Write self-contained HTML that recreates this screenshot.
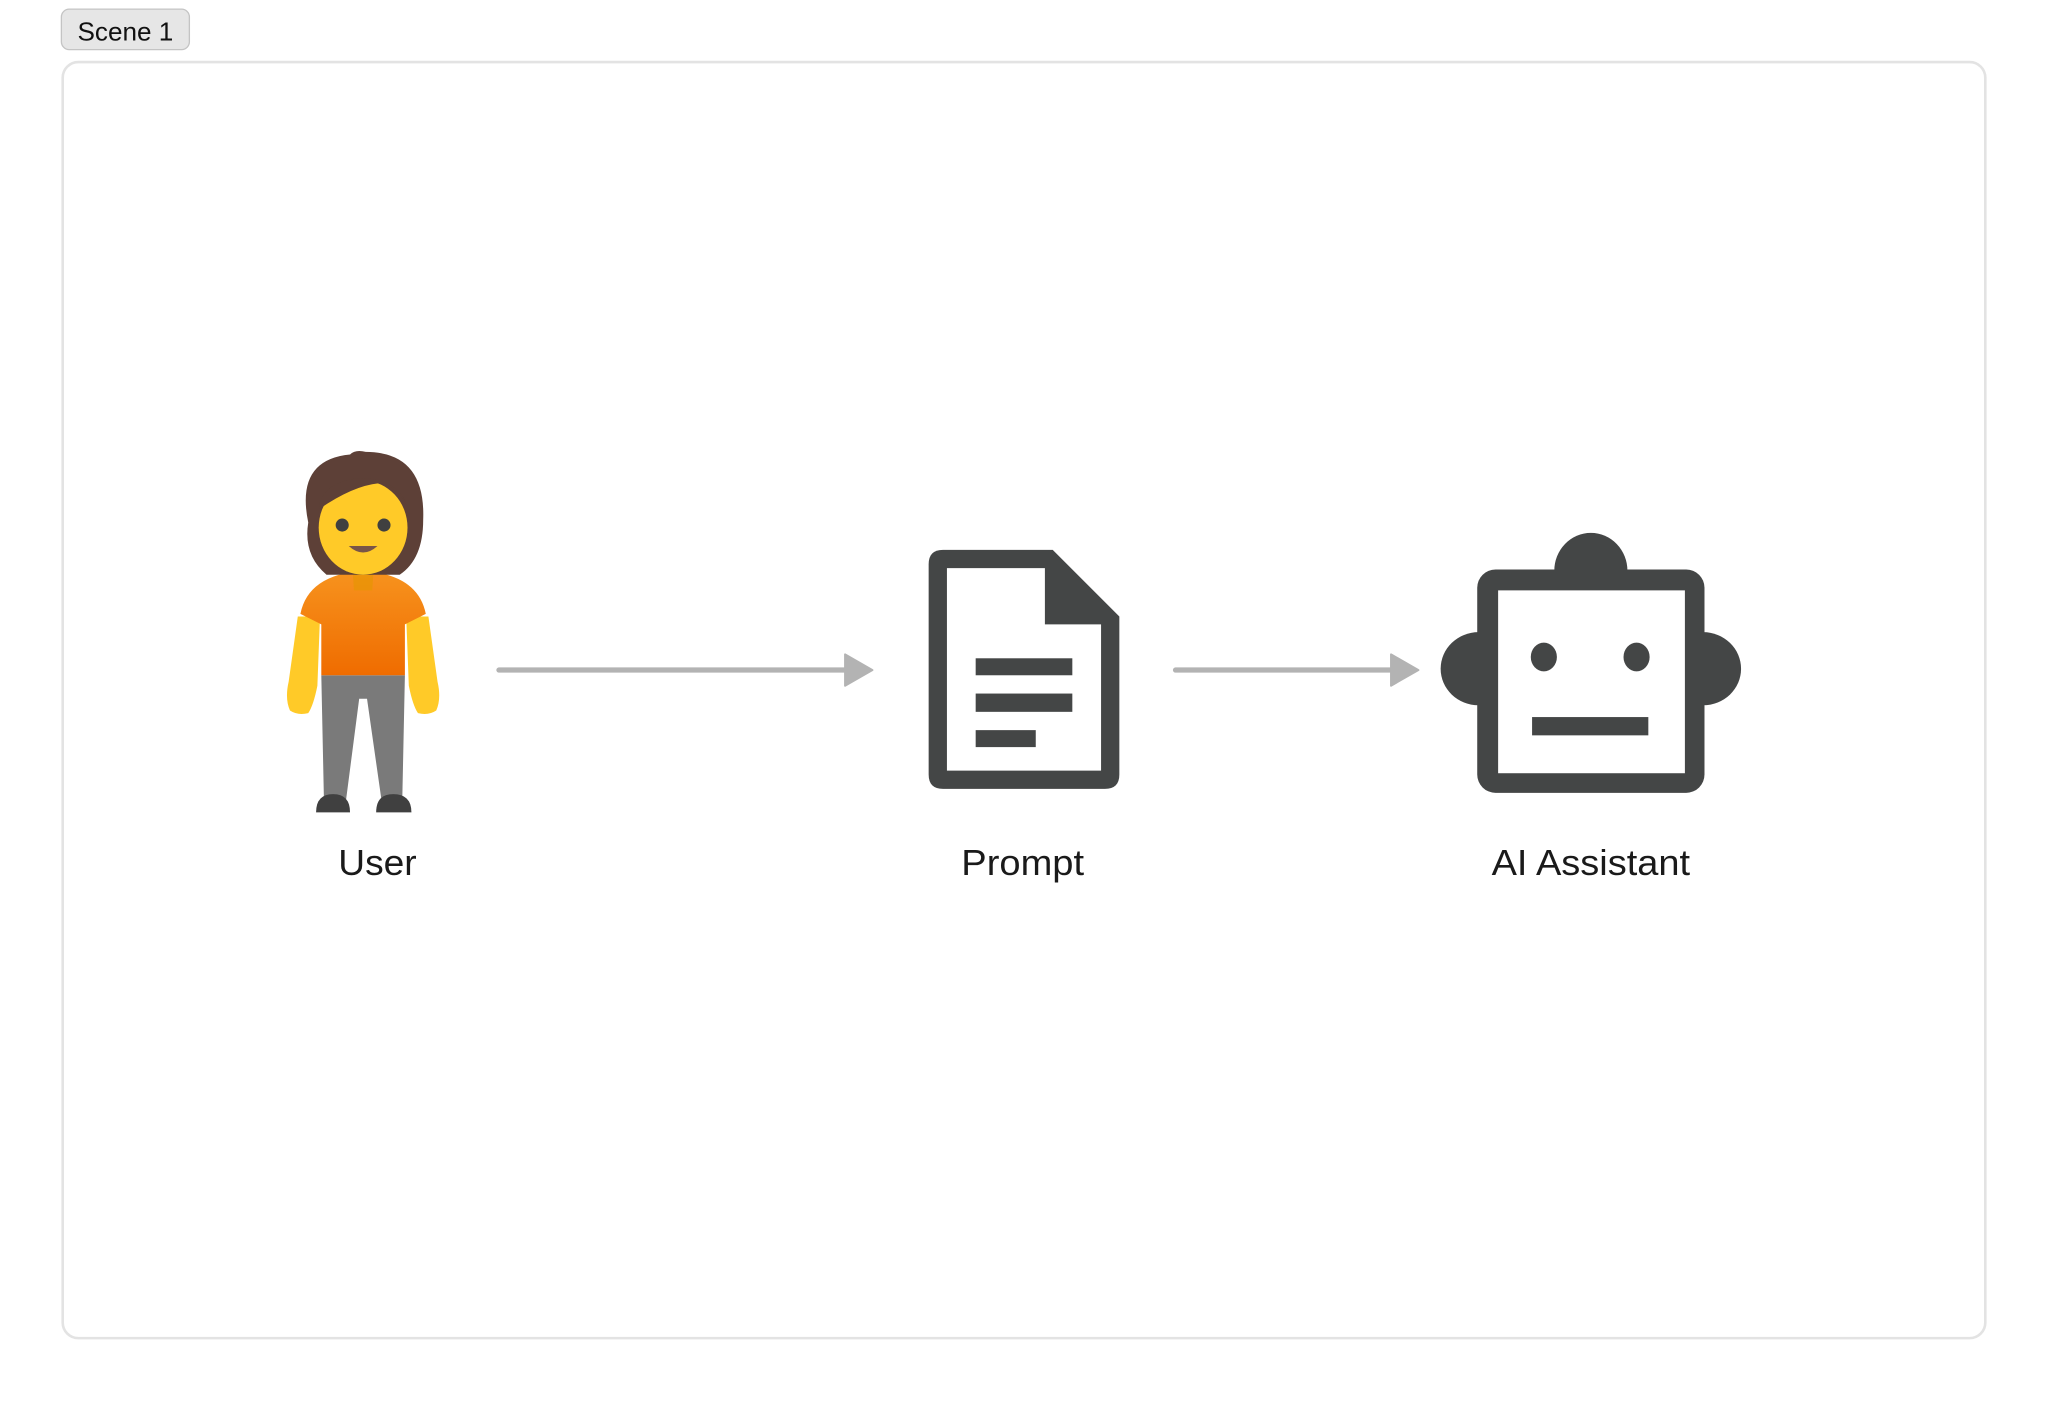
<!DOCTYPE html>
<html><head><meta charset="utf-8"><style>
html,body{margin:0;padding:0;background:#fff;width:2048px;height:1402px;overflow:hidden}
svg{display:block}
text{font-family:"Liberation Sans",sans-serif}
</style></head><body>
<svg width="2048" height="1402" viewBox="0 0 1568 1073.4" xmlns="http://www.w3.org/2000/svg">
<defs>
<linearGradient id="sh" x1="0" y1="0" x2="0" y2="1"><stop offset="0" stop-color="#f7931e"/><stop offset="1" stop-color="#ef6c00"/></linearGradient>
</defs>
<rect x="47" y="7" width="98" height="31" rx="6" fill="#e6e6e6" stroke="#c4c4c4" stroke-width="1"/>
<text x="96" y="31" font-size="20" text-anchor="middle" fill="#111">Scene 1</text>
<rect x="48" y="47.5" width="1472" height="977" rx="12" fill="#fff" stroke="#e3e3e3" stroke-width="2"/>

<!-- person -->
<g>
<path d="M228 472 L245 472 L243 525 Q240 540 236 546 Q228 548 222 544 Q218 535 221 522 Z" fill="#ffca28"/>
<path d="M328 472 L311 472 L313 525 Q316 540 320 546 Q328 548 334 544 Q338 535 335 522 Z" fill="#ffca28"/>
<path d="M246 517 L310 517 L308 612 L292 612 L281 535 L275 535 L265 612 L248 612 Z" fill="#7a7a7a"/>
<path d="M230 470 Q236 440 278 437 Q320 440 326 470 L310 478 L310 517 L246 517 L246 478 Z" fill="url(#sh)"/>
<path d="M270 437 L286 437 L285 452 L271 452 Z" fill="#e59600" opacity="0.6"/>
<path d="M242 622 Q242 608 255 608 Q268 608 268 622 Z" fill="#404040"/>
<path d="M288 622 Q288 608 301 608 Q315 608 315 622 Z" fill="#404040"/>
<path d="M236 400 Q226 352 268 348 Q272 344 280 346 Q326 346 324 398 Q324 428 306 440 L250 440 Q232 425 236 400 Z" fill="#5d4037"/>
<ellipse cx="278" cy="404" rx="34" ry="36" fill="#ffca28"/>
<path d="M244 390 Q246 368 278 366 Q306 368 312 388 Q304 372 290 370 Q270 372 244 390 Z" fill="#5d4037"/>
<circle cx="262" cy="402" r="5" fill="#404040"/>
<circle cx="294" cy="402" r="5" fill="#404040"/>
<path d="M267 418 Q278 428 289 418 Z" fill="#795548"/>
</g>
<text x="289" y="670" font-size="28" text-anchor="middle" fill="#1a1a1a" textLength="60" lengthAdjust="spacingAndGlyphs">User</text>

<!-- arrow 1 -->
<line x1="382" y1="513" x2="650" y2="513" stroke="#b3b3b3" stroke-width="4" stroke-linecap="round"/>
<path d="M647 501 L668 513 L647 525 Z" fill="#b3b3b3" stroke="#b3b3b3" stroke-width="1.5" stroke-linejoin="round"/>

<!-- document -->
<path d="M722 421 L806 421 L857 472 L857 593 Q857 604 846 604 L722 604 Q711 604 711 593 L711 432 Q711 421 722 421 Z" fill="#444646"/>
<path d="M725 435 L800 435 L800 478 L843 478 L843 590 L725 590 Z" fill="#fff"/>
<rect x="747" y="504" width="74" height="13" fill="#444646"/>
<rect x="747" y="531" width="74" height="14" fill="#444646"/>
<rect x="747" y="559" width="46" height="13" fill="#444646"/>
<text x="783" y="670" font-size="28" text-anchor="middle" fill="#1a1a1a" textLength="94" lengthAdjust="spacingAndGlyphs">Prompt</text>

<!-- arrow 2 -->
<line x1="900" y1="513" x2="1068" y2="513" stroke="#b3b3b3" stroke-width="4" stroke-linecap="round"/>
<path d="M1065 501 L1086 513 L1065 525 Z" fill="#b3b3b3" stroke="#b3b3b3" stroke-width="1.5" stroke-linejoin="round"/>

<!-- robot -->
<path d="M1190 437 A28 29 0 0 1 1246 437 Z" fill="#444646"/>
<path d="M1132 484 A29 28 0 0 0 1132 540 Z" fill="#444646"/>
<path d="M1304 484 A29 28 0 0 1 1304 540 Z" fill="#444646"/>
<rect x="1131" y="436" width="174" height="171" rx="14" fill="#444646"/>
<rect x="1147" y="452" width="143" height="140" fill="#fff"/>
<ellipse cx="1182" cy="503" rx="10" ry="11" fill="#444646"/>
<ellipse cx="1253" cy="503" rx="10" ry="11" fill="#444646"/>
<rect x="1173" y="549" width="89" height="14" fill="#444646"/>
<text x="1218" y="670" font-size="28" text-anchor="middle" fill="#1a1a1a" textLength="152" lengthAdjust="spacingAndGlyphs">AI Assistant</text>
</svg>
</body></html>
